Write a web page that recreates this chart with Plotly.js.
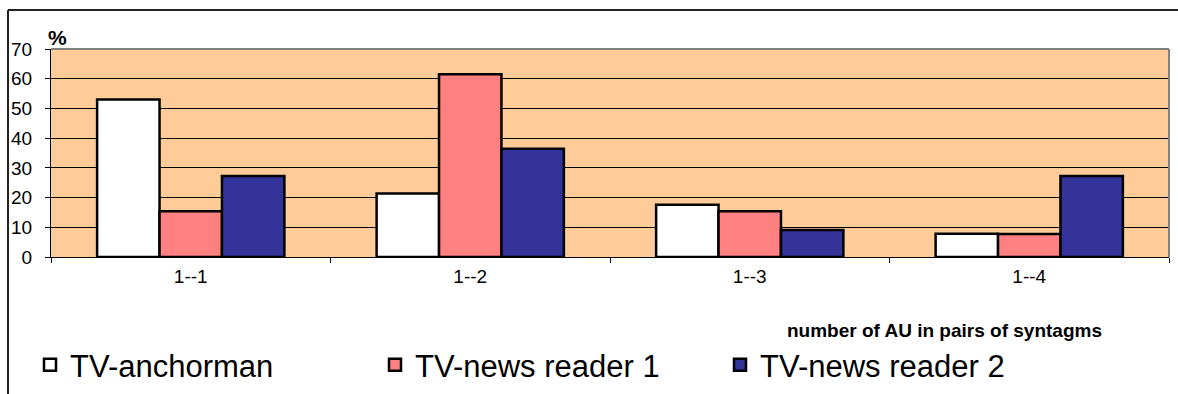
<!DOCTYPE html>
<html>
<head>
<meta charset="utf-8">
<script src="https://cdn.plot.ly/plotly-3.0.1.min.js"></script>
<style>
html,body{margin:0;padding:0;background:#fff;}
#chart{width:1178px;height:394px;}
</style>
</head>
<body>
<div id="chart"></div>
<script>
const categories = ["1--1", "1--2", "1--3", "1--4"];
const anchorman = [53.0, 21.4, 17.6, 7.8];
const reader1 = [15.4, 61.5, 15.4, 7.7];
const reader2 = [27.3, 36.4, 9.1, 27.3];
const seriesNames = ["TV-anchorman", "TV-news reader 1", "TV-news reader 2"];
const yTicks = [0, 10, 20, 30, 40, 50, 60, 70];

const colors = ["#FFFFFF", "#FF8080", "#333399"];
const allSeries = [anchorman, reader1, reader2];

const traces = allSeries.map((vals, i) => ({
  type: "bar",
  name: seriesNames[i],
  x: categories,
  y: vals,
  marker: {color: colors[i], line: {color: "#000000", width: 2.5}},
  hoverinfo: "x+y+name"
}));

// plot area: left 51, right 1169, top 49, bottom 257
const L = 51, R = 1169, T = 49, B = 257, W = 1178, H = 394;
const pw = R - L, ph = B - T;
const px = v => (v - L) / pw;
const py = v => (B - v) / ph;

const layout = {
  width: W, height: H,
  margin: {l: L, r: W - R, t: T, b: H - B, pad: 0, autoexpand: false},
  paper_bgcolor: "#FFFFFF",
  plot_bgcolor: "#FFCC99",
  barmode: "group",
  bargap: 0.33,
  bargroupgap: 0,
  font: {family: "Arial, 'Liberation Sans', sans-serif", color: "#000"},
  xaxis: {
    type: "category",
    tickson: "boundaries",
    ticks: "outside", ticklen: 5, tickcolor: "#000", tickwidth: 1,
    showline: true, linecolor: "#000", linewidth: 1,
    showgrid: false,
    tickfont: {size: 19, color: "#000"},
    ticklabelstandoff: 2,
    fixedrange: true
  },
  yaxis: {
    range: [0, 70],
    tickvals: yTicks,
    ticktext: yTicks.map(String),
    ticks: "outside", ticklen: 5, tickcolor: "#000", tickwidth: 1,
    showline: true, linecolor: "#000", linewidth: 1,
    showgrid: true, gridcolor: "#000", gridwidth: 1,
    zeroline: false,
    tickfont: {size: 19, color: "#000"},
    ticklabelstandoff: 9,
    fixedrange: true
  },
  showlegend: true,
  legend: {
    orientation: "h",
    xref: "container", yref: "container",
    x: 30 / W, xanchor: "left",
    y: (H - 365) / H, yanchor: "middle",
    font: {size: 31, color: "#000"},
    entrywidth: 300,
    bgcolor: "rgba(0,0,0,0)",
    traceorder: "normal"
  },
  annotations: [
    {text: "<b>%</b>", xref: "paper", yref: "paper", x: px(46), y: py(38), xanchor: "left", yanchor: "middle", showarrow: false, font: {size: 21, color: "#000"}},
    {text: "<b>number of AU in pairs of syntagms</b>", xref: "paper", yref: "paper", x: px(1104), y: py(330), xanchor: "right", yanchor: "middle", showarrow: false, font: {size: 19, color: "#000"}}
  ],
  shapes: [
    // plot area border (top & right) in gray
    {type: "line", xref: "paper", yref: "paper", x0: 0, x1: 1, y0: 1, y1: 1, line: {color: "#808080", width: 2}},
    {type: "line", xref: "paper", yref: "paper", x0: 1, x1: 1, y0: 0, y1: 1, line: {color: "#808080", width: 2}},
    // outer chart frame
    {type: "line", xref: "paper", yref: "paper", x0: px(8), x1: px(1178), y0: py(10), y1: py(10), line: {color: "#222", width: 2}},
    {type: "line", xref: "paper", yref: "paper", x0: px(8), x1: px(8), y0: py(10), y1: py(394), line: {color: "#222", width: 2}}
  ]
};

Plotly.newPlot("chart", traces, layout, {displayModeBar: false, staticPlot: true});
</script>
</body>
</html>
